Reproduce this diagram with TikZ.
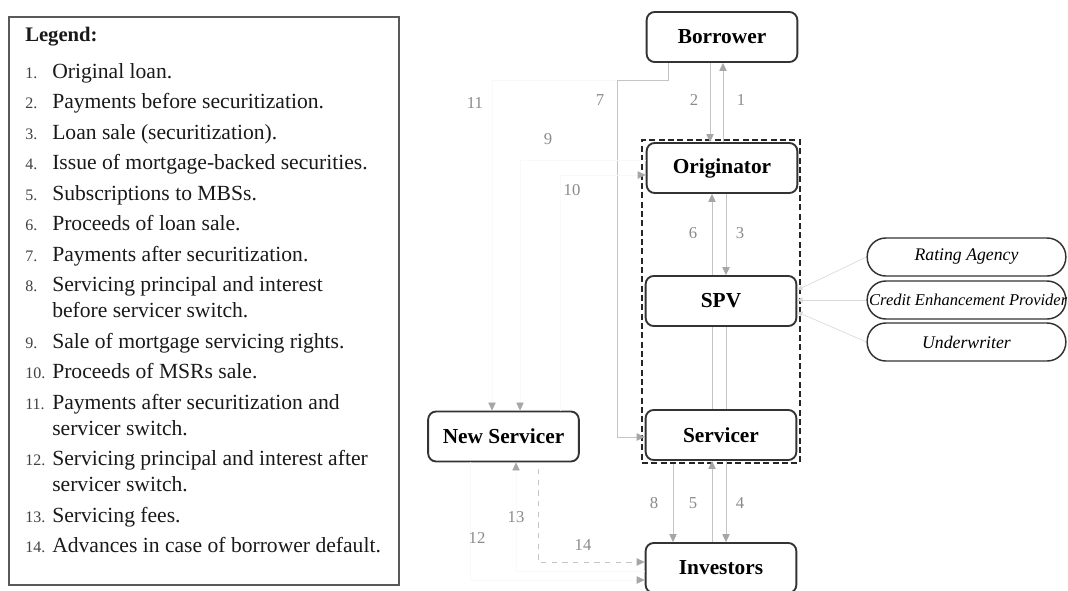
\documentclass[tikz,border=0pt]{standalone}
\usepackage{fontspec}
\setmainfont{Liberation Serif}
\usetikzlibrary{arrows.meta}

\definecolor{edgegray}{HTML}{333333}
\definecolor{linkgray}{HTML}{C4C4C4}
\definecolor{tipgray}{HTML}{A6A6A6}
\definecolor{numgray}{HTML}{8A8A8A}
\definecolor{ghost}{HTML}{F9F9F9}
\definecolor{paleline}{HTML}{DADADA}

\tikzset{
  party/.style={draw=edgegray, line width=1.4pt, rounded corners=6pt, fill=white,
    minimum width=113pt, minimum height=37.5pt, inner sep=0pt,
    font=\fontsize{16}{18}\selectfont\bfseries},
  pill/.style={draw=edgegray, line width=1.1pt, rounded corners=14pt, fill=white,
    minimum width=149pt, minimum height=28.5pt, inner sep=0pt,
    font=\fontsize{13.3}{15}\selectfont\itshape},
  groupbox/.style={draw=black!85, line width=1.1pt, dash pattern=on 4.5pt off 2.5pt,
    minimum width=118.5pt, minimum height=242pt, inner sep=0pt},
  link/.style={draw=linkgray, line width=0.6pt},
  flow/.style={link, -{Triangle[length=6pt,width=5.5pt,color=tipgray]}},
  faint/.style={draw=ghost, line width=0.5pt, -{Triangle[length=6pt,width=5.5pt,color=tipgray]}},
  advance/.style={flow, dash pattern=on 4pt off 4pt},
  rating/.style={draw=paleline, line width=0.5pt, -{Triangle[length=4pt,width=4pt,color=paleline]}},
  num/.style={text=numgray, font=\fontsize{12.5}{14}\selectfont, inner sep=0pt},
  legnum/.style={anchor=base west, inner sep=0pt, font=\fontsize{12}{14}\selectfont, text=black!75},
  legtxt/.style={anchor=base west, inner sep=0pt, font=\fontsize{16.2}{19}\selectfont, text=black!90},
}

\begin{document}
\begin{tikzpicture}[x=0.75pt, y=-0.75pt]
\useasboundingbox (0,0) rectangle (1068,590);

% ---------- legend ----------
\draw[draw=black!65, line width=1pt] (9,17) rectangle (399,585);
\node[legtxt, font=\fontsize{15.5}{18}\selectfont\bfseries] (legtitle) at (25,41) {Legend:};
\node[legnum] (n1)  at (25,78)    {1.};  \node[legtxt] (t1)  at (52,78)    {Original loan.};
\node[legnum] (n2)  at (25,108.5) {2.};  \node[legtxt] (t2)  at (52,108.5) {Payments before securitization.};
\node[legnum] (n3)  at (25,139)   {3.};  \node[legtxt] (t3)  at (52,139)   {Loan sale (securitization).};
\node[legnum] (n4)  at (25,169.5) {4.};  \node[legtxt] (t4)  at (52,169.5) {Issue of mortgage-backed securities.};
\node[legnum] (n5)  at (25,200)   {5.};  \node[legtxt] (t5)  at (52,200)   {Subscriptions to MBSs.};
\node[legnum] (n6)  at (25,230.5) {6.};  \node[legtxt] (t6)  at (52,230.5) {Proceeds of loan sale.};
\node[legnum] (n7)  at (25,261)   {7.};  \node[legtxt] (t7)  at (52,261)   {Payments after securitization.};
\node[legnum] (n8)  at (25,291.5) {8.};  \node[legtxt] (t8)  at (52,291.5) {Servicing principal and interest};
                                         \node[legtxt] (t8b) at (52,317.5) {before servicer switch.};
\node[legnum] (n9)  at (25,348)   {9.};  \node[legtxt] (t9)  at (52,348)   {Sale of mortgage servicing rights.};
\node[legnum] (n10) at (25,378.5) {10.}; \node[legtxt] (t10) at (52,378.5) {Proceeds of MSRs sale.};
\node[legnum] (n11) at (25,409)   {11.}; \node[legtxt] (t11) at (52,409)   {Payments after securitization and};
                                         \node[legtxt] (t11b) at (52,435) {servicer switch.};
\node[legnum] (n12) at (25,465.5) {12.}; \node[legtxt] (t12) at (52,465.5) {Servicing principal and interest after};
                                         \node[legtxt] (t12b) at (52,491.5) {servicer switch.};
\node[legnum] (n13) at (25,522)   {13.}; \node[legtxt] (t13) at (52,522)   {Servicing fees.};
\node[legnum] (n14) at (25,552.5) {14.}; \node[legtxt] (t14) at (52,552.5) {Advances in case of borrower default.};

% ---------- parties ----------
\node[groupbox] (group) at (721,301.5) {};
\node[party] (borr) at (722,37)    {Borrower};
\node[party] (orig) at (722,168)   {Originator};
\node[party] (spv)  at (721,301)   {SPV};
\node[party] (serv) at (721,435)   {Servicer};
\node[party] (inv)  at (721,568)   {Investors};
\node[party] (nsv)  at (503.5,436.5) {New Servicer};

\node[pill] (ra)  at (966.5,257) {Rating Agency};
\node[pill, font=\fontsize{12.4}{14}\selectfont\itshape] (cep) at (966.5,300)
  {\makebox[146pt][l]{Credit Enhancement Provider}};
\node[pill] (uw)  at (966.5,342) {Underwriter};

% ---------- flows along the chain ----------
\draw[flow] (orig.north -| 723,0) -- (borr.south -| 723,0);
\draw[flow] (borr.south -| 710,0) -- (orig.north -| 710,0);
\draw[flow] (orig.south -| 726,0) -- (spv.north -| 726,0);
\draw[flow] (spv.north -| 712,0) -- (orig.south -| 712,0);
\draw[link] (spv.south -| 712,0) -- (serv.north -| 712,0);
\draw[link] (spv.south -| 726,0) -- (serv.north -| 726,0);
\draw[flow] (serv.south -| 726,0) -- (inv.north -| 726,0);
\draw[flow] (inv.north -| 712,0) -- (serv.south -| 712,0);
\draw[flow] (group.south -| 673,0) -- (inv.north -| 673,0);

% payments after securitization
\coordinate (j7a) at (668,80);
\coordinate (j7) at (617,80);
\draw[flow] (borr.south -| 668,0) -- (j7a) -- (j7) |- ([yshift=-1.5pt]serv.west);

% servicer switch
\draw[faint] (j7) -| ([xshift=-8.6pt]nsv.north);
\draw[faint] ([yshift=6pt]orig.west) -| ([xshift=12.4pt]nsv.north);
\draw[faint] ([xshift=42.4pt]nsv.north) |- ([yshift=-5.25pt]orig.west);
\draw[faint] ([xshift=-25pt]nsv.south) |- ([yshift=-9pt]inv.west);
\draw[faint] ([yshift=-2.25pt]inv.west) -| ([xshift=9.4pt]nsv.south);
\draw[advance] ([xshift=25.9pt,yshift=-5pt]nsv.south) |- ([yshift=4.5pt]inv.west);

% third parties of the SPV
\draw[rating] (ra.west)  -- ([yshift=8.25pt]spv.east);
\draw[rating] (cep.west) -- ([yshift=0.75pt]spv.east);
\draw[rating] (uw.west)  -- ([yshift=-8.25pt]spv.east);

% ---------- flow numbers ----------
\node[num] (l1)  at (741,100) {1};
\node[num] (l2)  at (694,100) {2};
\node[num] (l3)  at (740,233) {3};
\node[num] (l4)  at (740,503) {4};
\node[num] (l5)  at (693,503) {5};
\node[num] (l6)  at (693,233) {6};
\node[num] (l7)  at (600,100) {7};
\node[num] (l8)  at (654,503) {8};
\node[num] (l9)  at (548,139) {9};
\node[num] (l10) at (572,190) {10};
\node[num] (l11) at (475,103) {11};
\node[num] (l12) at (477,538) {12};
\node[num] (l13) at (516,517) {13};
\node[num] (l14) at (583,545) {14};
\end{tikzpicture}
\end{document}
